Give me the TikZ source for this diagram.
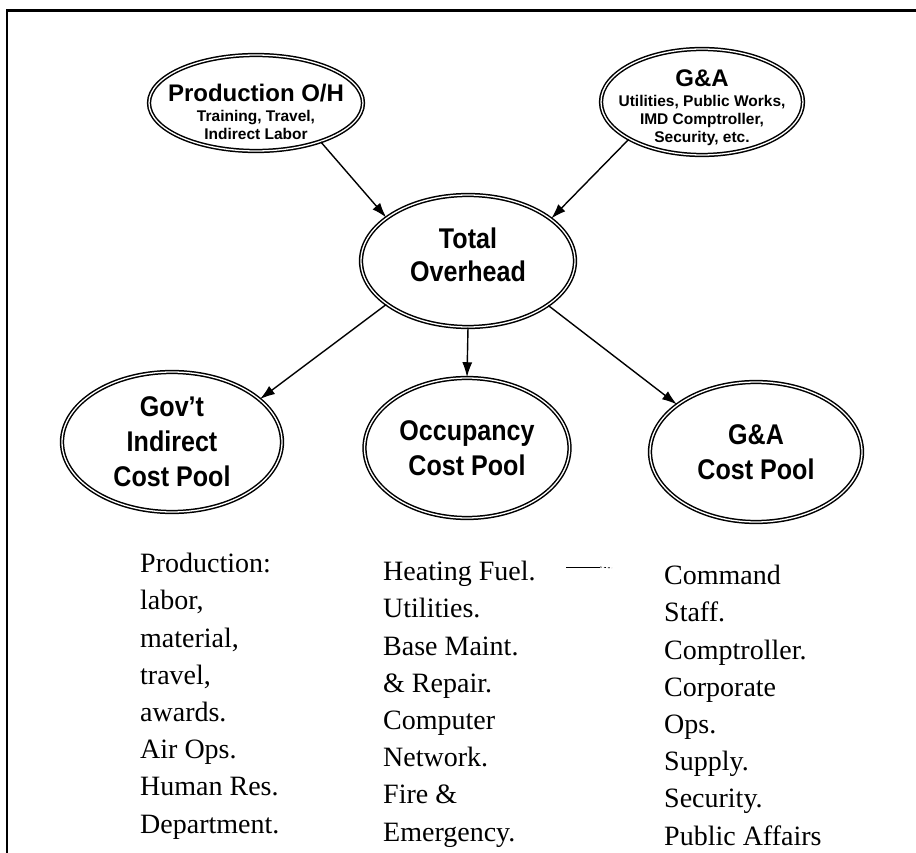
\documentclass[tikz,border=0pt]{standalone}
\usepackage{fontspec}
\setmainfont{Liberation Serif}
\newfontfamily\hv{Liberation Sans}
\newfontfamily\hvn[FakeStretch=0.88]{Liberation Sans}
\usetikzlibrary{shapes.geometric,arrows.meta}

% a centred stack of lines, moved down by #1, taking no room in its node
\newcommand\lowstack[2]{\makebox[0pt]{\raisebox{#1}[0pt][0pt]{\begin{tabular}{@{}c@{}}#2\end{tabular}}}}

\begin{document}
\begin{tikzpicture}[x=1pt,y=-1pt,
  pool/.style={ellipse, draw, line width=1.5pt, double, double distance=1.3pt,
               inner sep=0pt, align=center},
  big/.style={font=\fontsize{28.5}{35}\selectfont\hvn\bfseries},
  small/.style={font=\fontsize{15.5}{18}\selectfont\hv\bfseries},
  link/.style={line width=1.4pt, -{Latex[length=15pt,width=10pt]}},
  list/.style={anchor=north west, align=left, inner sep=0pt,
               font=\fontsize{28}{37.2}\selectfont}
]
\useasboundingbox (0,0) rectangle (916,853);

% frame edges
\draw[line width=3pt] (6,11) -- (916,11);
\draw[line width=2pt] (7,11) -- (7,853);

% overhead sources
\node[pool, small, minimum width=214pt, minimum height=96pt] (poh) at (256,103)
  {\lowstack{-15pt}{{\fontsize{24}{24}\selectfont Production O/H}\\[2pt]Training, Travel,\\Indirect Labor}};
\node[pool, small, minimum width=202pt, minimum height=106pt] (ga) at (702,102)
  {\lowstack{-10pt}{{\fontsize{24}{24}\selectfont G\&A}\\[2pt]Utilities, Public Works,\\IMD Comptroller,\\Security, etc.}};

% total
\node[pool, big, font=\fontsize{28.5}{33}\selectfont\hvn\bfseries,
      minimum width=214pt, minimum height=132pt] (tot) at (468,261)
  {\lowstack{-3.5pt}{Total\\Overhead}};

% cost pools
\node[pool, big, minimum width=220pt, minimum height=140pt] (gov) at (172,442)
  {Gov’t\\Indirect\\Cost Pool};
\node[pool, big, minimum width=205pt, minimum height=140pt] (occ) at (467,448)
  {Occupancy\\Cost Pool};
\node[pool, big, minimum width=212pt, minimum height=140pt] (gap) at (756,452)
  {G\&A\\Cost Pool};

% connectors
\draw[link] (poh.-31) -- (tot.152);
\draw[link] (ga.207) -- (tot.27);
\draw[link] (tot.208) -- (gov.26);
\draw[link] (tot.south) -- (occ.north);
\draw[link] (tot.-29) -- (gap.149);

% pool contents
\node[list] (lgov) at (140,553)
  {Production:\\labor,\\material,\\travel,\\awards.\\Air Ops.\\Human Res.\\Department.};
\node[list] (locc) at (383,561)
  {Heating Fuel.\\Utilities.\\Base Maint.\\\& Repair.\\Computer\\Network.\\Fire \&\\Emergency.};
\node[list] (lgap) at (664,565)
  {Command\\Staff.\\Comptroller.\\Corporate\\Ops.\\Supply.\\Security.\\Public Affairs};

% stray rule beside the lists
\coordinate (r1) at (566,567);
\coordinate (r2) at (600,567);
\coordinate (r3) at (612,568);
\draw[line width=0.9pt] (r1) -- (r2);
\draw[line width=0.7pt, dash pattern=on 2pt off 2pt] (r2) -- (r3);
\end{tikzpicture}
\end{document}
